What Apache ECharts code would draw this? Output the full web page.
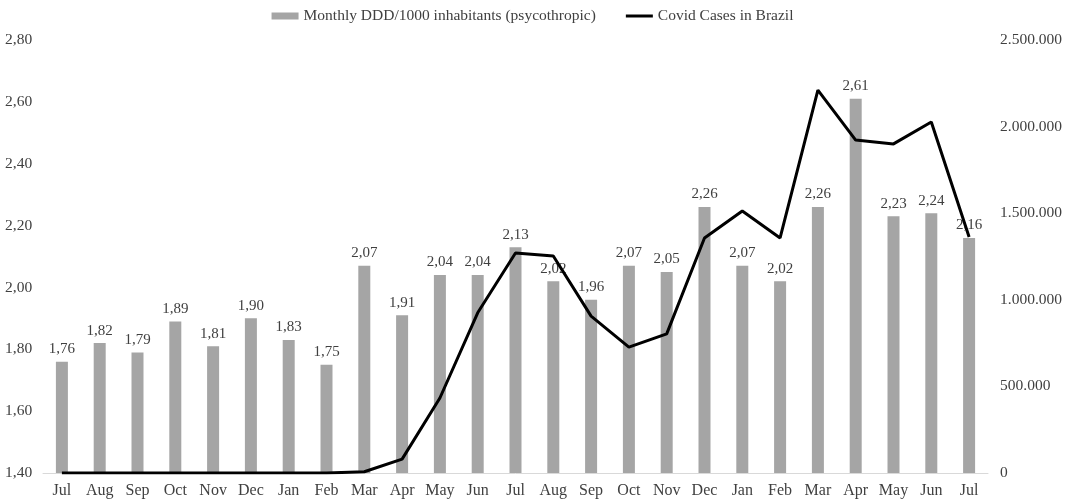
<!DOCTYPE html>
<html>
<head>
    <meta charset="utf-8">
    <title>DDD vs Covid cases</title>
    <script src="https://cdn.jsdelivr.net/npm/echarts@6/dist/echarts.min.js"></script>
    <style>
        html, body { margin: 0; padding: 0; background: #fff; }
    </style>
</head>
<body>
    <div id="main" style="width: 1065px;height:502px;"></div>
    <script type="text/javascript">
        var months = ['Jul', 'Aug', 'Sep', 'Oct', 'Nov', 'Dec', 'Jan', 'Feb', 'Mar', 'Apr', 'May', 'Jun',
                      'Jul', 'Aug', 'Sep', 'Oct', 'Nov', 'Dec', 'Jan', 'Feb', 'Mar', 'Apr', 'May', 'Jun', 'Jul'];
        var dddValues = [1.76, 1.82, 1.79, 1.89, 1.81, 1.90, 1.83, 1.75, 2.07, 1.91, 2.04, 2.04,
                         2.13, 2.02, 1.96, 2.07, 2.05, 2.26, 2.07, 2.02, 2.26, 2.61, 2.23, 2.24, 2.16];
        var covidCases = [0, 0, 0, 0, 0, 0, 0, 0, 7000, 80000, 433000, 925000,
                          1270000, 1253000, 906000, 727000, 803000, 1357000, 1513000, 1357000,
                          2211000, 1922000, 1900000, 2027000, 1363000];

        var fontName = 'Liberation Serif';
        var chart = echarts.init(document.getElementById('main'));

        function commaDec(v) {
            return v.toFixed(2).replace('.', ',');
        }
        function dotThousands(v) {
            return String(Math.round(v)).replace(/\B(?=(\d{3})+(?!\d))/g, '.');
        }

        var option = {
            animation: false,
            textStyle: { fontFamily: fontName },
            legend: {
                top: 3,
                left: 'center',
                itemGap: 30,
                itemWidth: 27,
                itemHeight: 7,
                textStyle: { fontFamily: fontName, fontSize: 15.5, color: '#404040' },
                data: [
                    { name: 'Monthly DDD/1000 inhabitants (psycothropic)', icon: 'rect' },
                    { name: 'Covid Cases in Brazil', icon: 'path://M0,0h27v3h-27z' }
                ]
            },
            grid: { left: 43, right: 76, top: 40, bottom: 29 },
            xAxis: {
                type: 'category',
                data: months,
                axisLine: { lineStyle: { color: '#d9d9d9' } },
                axisTick: { show: false },
                axisLabel: { color: '#404040', fontSize: 16, fontFamily: fontName, margin: 10, interval: 0 }
            },
            yAxis: [
                {
                    type: 'value',
                    min: 1.4,
                    max: 2.8,
                    interval: 0.2,
                    splitLine: { show: false },
                    axisLine: { show: false },
                    axisTick: { show: false },
                    axisLabel: {
                        color: '#404040', fontSize: 15.5, fontFamily: fontName, margin: 38, align: 'left',
                        formatter: commaDec
                    }
                },
                {
                    type: 'value',
                    min: 0,
                    max: 2500000,
                    interval: 500000,
                    splitLine: { show: false },
                    axisLine: { show: false },
                    axisTick: { show: false },
                    axisLabel: {
                        color: '#404040', fontSize: 15.5, fontFamily: fontName, margin: 12,
                        formatter: dotThousands
                    }
                }
            ],
            series: [
                {
                    name: 'Monthly DDD/1000 inhabitants (psycothropic)',
                    type: 'bar',
                    data: dddValues,
                    barWidth: 12,
                    itemStyle: { color: '#a5a5a5' },
                    label: {
                        show: true,
                        position: 'top',
                        distance: 5,
                        color: '#404040',
                        fontSize: 15,
                        fontFamily: fontName,
                        formatter: function (p) { return commaDec(p.value); }
                    }
                },
                {
                    name: 'Covid Cases in Brazil',
                    type: 'line',
                    yAxisIndex: 1,
                    data: covidCases,
                    symbol: 'none',
                    lineStyle: { color: '#000', width: 3 },
                    itemStyle: { color: '#000' }
                }
            ]
        };

        chart.setOption(option);
    </script>
</body>
</html>
